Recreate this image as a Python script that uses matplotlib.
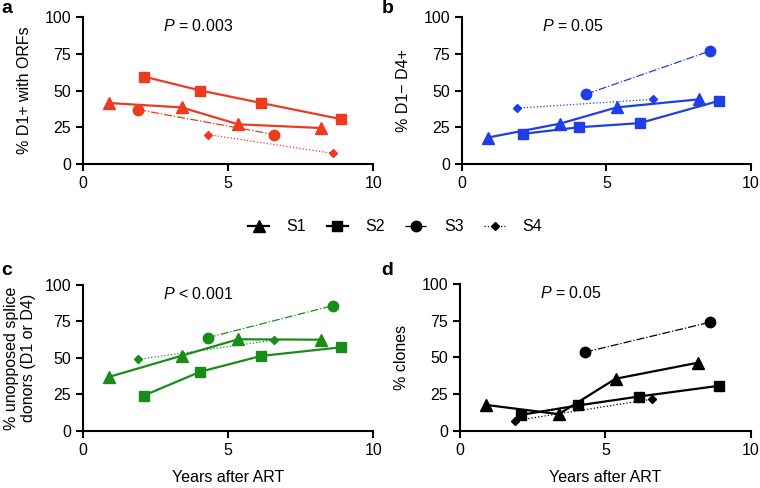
import numpy as np
import matplotlib
matplotlib.use('Agg')
from matplotlib import pyplot as plt

plt.rcParams['font.family'] = ['Liberation Sans', 'DejaVu Sans']
plt.rcParams['mathtext.fontset'] = 'custom'
plt.rcParams['mathtext.it'] = 'Liberation Sans:italic'
plt.rcParams['mathtext.rm'] = 'Liberation Sans'

# time points (years after ART) per subject
s1_x = [0.9, 3.4, 5.35, 8.2]
s2_x = [2.1, 4.05, 6.15, 8.9]
s3_x = [4.3, 8.6]
s4_x = [1.9, 6.6]
# panel a has S3 / S4 drawn at swapped times
a_s3_x = [1.9, 6.6]
a_s4_x = [4.3, 8.6]

# panel a: % D1+ with ORFs
a_s1 = [41.5, 38.5, 27, 24.5]
a_s2 = [59.5, 50, 41.5, 30.5]
a_s3 = [37, 20]
a_s4 = [20, 7.3]

# panel b: % D1- D4+
b_s1 = [18, 27.5, 38.5, 44]
b_s2 = [20.5, 25, 27.8, 43]
b_s3 = [47.6, 77]
b_s4 = [38, 44]

# panel c: % unopposed splice donors
c_s1 = [37, 51.5, 62.8, 62.5]
c_s2 = [24.2, 40.6, 51.4, 57.3]
c_s3 = [63.9, 85.8]
c_s4 = [49, 62.3]

# panel d: % clones
d_s1 = [17.7, 11.4, 35.5, 46.5]
d_s2 = [10.9, 17.3, 23.4, 30.7]
d_s3 = [53.6, 74]
d_s4 = [7, 21.6]

p_texts = ['= 0.003', '= 0.05', '< 0.001', '= 0.05']
ylabels = ['% D1+ with ORFs', '% D1\u2212 D4+',
           '% unopposed splice\ndonors (D1 or D4)', '% clones']
colors = ['#ec3b1e', '#1f3ee8', '#1a8c1a', '#000000']
letters = ['a', 'b', 'c', 'd']

panels = [
    (s1_x, a_s1, s2_x, a_s2, a_s3_x, a_s3, a_s4_x, a_s4),
    (s1_x, b_s1, s2_x, b_s2, s3_x, b_s3, s4_x, b_s4),
    (s1_x, c_s1, s2_x, c_s2, s3_x, c_s3, s4_x, c_s4),
    (s1_x, d_s1, s2_x, d_s2, s3_x, d_s3, s4_x, d_s4),
]

fig = plt.figure(figsize=(7.6, 4.88), dpi=100)
rects = [
    [0.109, 0.664, 0.382, 0.301],
    [0.608, 0.664, 0.380, 0.301],
    [0.109, 0.117, 0.382, 0.299],
    [0.605, 0.117, 0.383, 0.301],
]

fs = 11.5
handles = []
for i, (rect, data) in enumerate(zip(rects, panels)):
    ax = fig.add_axes(rect)
    c = colors[i]
    x1, y1, x2, y2, x3, y3, x4, y4 = data
    h1, = ax.plot(x1, y1, '-', marker='^', color=c, lw=1.6, ms=8.5, label='S1')
    h2, = ax.plot(x2, y2, '-', marker='s', color=c, lw=1.6, ms=7, label='S2')
    h3, = ax.plot(x3, y3, '-.', marker='o', color=c, lw=0.9, ms=7.5, label='S3')
    h4, = ax.plot(x4, y4, ':', marker='D', color=c, lw=0.9, ms=4.5, label='S4')
    if i == 3:
        handles = [h1, h2, h3, h4]

    ax.set_xlim(0, 10)
    ax.set_ylim(0, 100)
    ax.set_xticks([0, 5, 10])
    ax.set_yticks([0, 25, 50, 75, 100])
    for s in ['top', 'right']:
        ax.spines[s].set_visible(False)
    for s in ['left', 'bottom']:
        ax.spines[s].set_linewidth(1.5)
    ax.tick_params(direction='out', length=5, width=1.5, labelsize=fs)
    ax.set_ylabel(ylabels[i], fontsize=fs, labelpad=6 if i == 2 else 9)
    if i >= 2:
        ax.set_xlabel('Years after ART', fontsize=fs, labelpad=9)
    ax.text(2.75, 94, r'$P$ ' + p_texts[i], fontsize=fs, va='center', ha='left')
    for ln in ax.lines:
        ln.set_clip_on(False)

fig.text(0.002, 0.982, 'a', fontsize=14, fontweight='bold', va='center')
fig.text(0.502, 0.982, 'b', fontsize=14, fontweight='bold', va='center')
fig.text(0.002, 0.445, 'c', fontsize=14, fontweight='bold', va='center')
fig.text(0.502, 0.445, 'd', fontsize=14, fontweight='bold', va='center')

fig.legend(handles, ['S1', 'S2', 'S3', 'S4'], loc='center',
           bbox_to_anchor=(0.52, 0.535), ncol=4, frameon=False,
           handlelength=1.3, columnspacing=1.3, handletextpad=1.1, fontsize=fs)

fig.savefig('out.png', dpi=100)
